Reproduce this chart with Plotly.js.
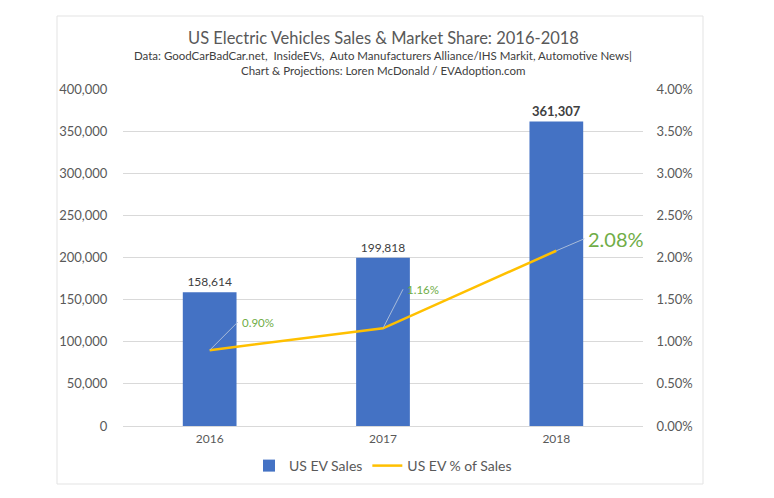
<!DOCTYPE html>
<html><head><meta charset="utf-8">
<script src="https://cdn.plot.ly/plotly-3.0.1.min.js"></script>
<style>body{margin:0;background:#fff}#c{width:774px;height:498px}</style>
</head><body><div id="c"></div>
<script>
const years = ['2016', '2017', '2018'];
const evSales = [158614, 199818, 361307];
const evShare = [0.0090, 0.0116, 0.0208];
const shareLabels = ['0.90%', '1.16%', '2.08%'];

const FONT = 'Lato, "Open Sans", sans-serif';
const pxToY = p => (426 - p) / 337;

const barText = evSales.map((v, i) => {
  const s = v.toLocaleString('en-US');
  return i === evSales.length - 1 ? '<b>' + s + '</b>' : s;
});

const traces = [
  {type: 'bar', x: years, y: evSales, name: 'US EV Sales', marker: {color: '#4472C4'},
   width: 0.31, text: barText, textposition: 'outside', cliponaxis: false,
   textfont: {size: [12, 12, 13], color: '#404040', family: FONT}, hoverinfo: 'none'},
  {type: 'scatter', mode: 'lines', x: years, y: evShare, yaxis: 'y2', name: 'US EV % of Sales',
   line: {color: '#FFC000', width: 2.5}, hoverinfo: 'none'}
];

const annos = [
  {text: 'US Electric Vehicles Sales & Market Share: 2016-2018', xref: 'paper', yref: 'paper', x: 0.5, y: pxToY(38),
   xanchor: 'center', yanchor: 'middle', showarrow: false, font: {size: 16.5, color: '#595959', family: FONT}},
  {text: 'Data: GoodCarBadCar.net,  InsideEVs,  Auto Manufacturers Alliance/IHS Markit, Automotive News|', xref: 'paper', yref: 'paper', x: 0.5, y: pxToY(55),
   xanchor: 'center', yanchor: 'middle', showarrow: false, font: {size: 11.5, color: '#404040', family: FONT}},
  {text: 'Chart & Projections: Loren McDonald / EVAdoption.com', xref: 'paper', yref: 'paper', x: 0.5, y: pxToY(71),
   xanchor: 'center', yanchor: 'middle', showarrow: false, font: {size: 11.5, color: '#404040', family: FONT}}
];
const offs = [[28, -28, 11.5], [20, -39, 11.5], [28, -12, 20]];
years.forEach((yr, i) => {
  annos.push({x: i, y: evShare[i], xref: 'x', yref: 'y2', text: shareLabels[i],
    showarrow: true, arrowhead: 0, arrowwidth: 1, arrowcolor: '#A9BCD9',
    ax: offs[i][0], ay: offs[i][1], xanchor: 'left', yanchor: 'middle', standoff: 0, borderpad: 3,
    font: {size: offs[i][2], color: '#70AD47', family: FONT}});
});

const layout = {
  width: 774, height: 498, margin: {l: 123, r: 131, t: 89, b: 72},
  paper_bgcolor: '#fff', plot_bgcolor: '#fff', showlegend: true,
  font: {family: FONT, color: '#595959'},
  xaxis: {type: 'category', categoryorder: 'array', categoryarray: years, range: [-0.5, years.length - 0.5],
    tickfont: {size: 12, color: '#595959'}, showline: false, ticks: 'outside', ticklen: 2, tickcolor: 'rgba(0,0,0,0)', showgrid: false},
  yaxis: {range: [0, 400000], dtick: 50000, tickformat: ',', gridcolor: '#D9D9D9', zeroline: true, zerolinecolor: '#D9D9D9',
    tickfont: {size: 13, color: '#595959'}, ticks: 'outside', ticklen: 12, tickcolor: 'rgba(0,0,0,0)'},
  yaxis2: {range: [0, 0.04], dtick: 0.005, tickformat: '.2%', overlaying: 'y', side: 'right', showgrid: false, zeroline: false,
    tickfont: {size: 13, color: '#595959'}, ticks: 'outside', ticklen: 10, tickcolor: 'rgba(0,0,0,0)'},
  legend: {orientation: 'h', x: 0.5, xanchor: 'center', y: pxToY(466), yanchor: 'middle',
    font: {size: 14, color: '#595959'}},
  annotations: annos,
  shapes: [{type: 'rect', xref: 'paper', yref: 'paper', x0: (57 - 123) / 520, x1: (703 - 123) / 520,
    y0: pxToY(484), y1: pxToY(16), line: {color: '#E3E3E3', width: 1}}]
};
Plotly.newPlot('c', traces, layout, {displayModeBar: false});
</script></body></html>
